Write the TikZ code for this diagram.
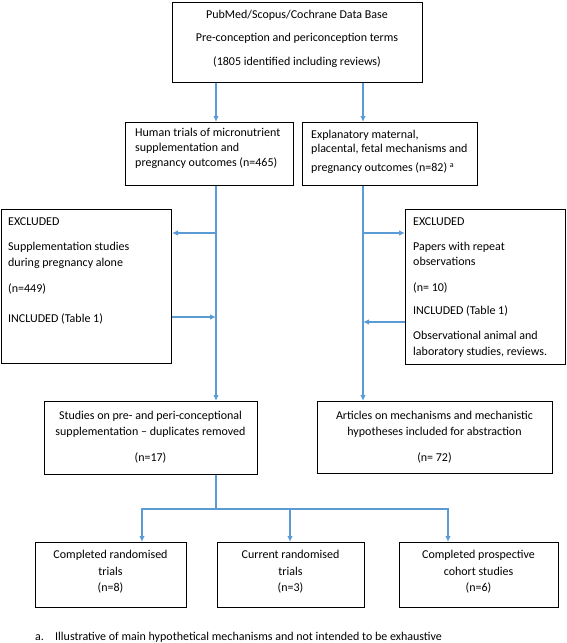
\documentclass[tikz,border=0pt]{standalone}
\usepackage{fontspec}
\setmainfont{Carlito}
\usetikzlibrary{arrows.meta}
\definecolor{arrowblue}{RGB}{91,155,213}
\begin{document}
\begin{tikzpicture}[x=1pt,y=-1pt,
  box/.style={draw=black, line width=1pt, inner sep=0pt},
  txt/.style={inner sep=0pt, font=\fontsize{12}{15}\selectfont},
  conn/.style={draw=arrowblue, line width=1.3pt},
  arr/.style={conn, -{Latex[length=6pt,width=5.5pt]}}]
\useasboundingbox (0,0) rectangle (567,643);
% boxes
\node[box, minimum width=250pt, minimum height=80pt, anchor=north west] (top) at (172,2) {};
\node[box, minimum width=168pt, minimum height=63pt, anchor=north west] (A) at (125,122) {};
\node[box, minimum width=175pt, minimum height=63pt, anchor=north west] (B) at (302,122) {};
\node[box, minimum width=170pt, minimum height=154pt, anchor=north west] (exL) at (1,209) {};
\node[box, minimum width=160pt, minimum height=155pt, anchor=north west] (exR) at (405,209) {};
\node[box, minimum width=213pt, minimum height=73pt, anchor=north west] (stud) at (44,401) {};
\node[box, minimum width=235pt, minimum height=72pt, anchor=north west] (art) at (317,401) {};
\node[box, minimum width=151pt, minimum height=65pt, anchor=north west] (c1) at (35,542) {};
\node[box, minimum width=147pt, minimum height=65pt, anchor=north west] (c2) at (217,542) {};
\node[box, minimum width=159pt, minimum height=65pt, anchor=north west] (c3) at (399,542) {};
% texts
\node[txt, align=center, anchor=north] (topt) at (297,10) {PubMed/Scopus/Cochrane Data Base\\[8pt]Pre-conception and periconception terms\\[9pt](1805 identified including reviews)};
\node[txt, align=left, anchor=north west] (At) at (135,128) {Human trials of micronutrient\\supplementation and\\pregnancy outcomes (n=465)};
\node[txt, align=left, anchor=north west] (Bt) at (311,130) {Explanatory maternal,\\[-1pt]placental, fetal mechanisms and\\[4pt]pregnancy outcomes (n=82) \textsuperscript{a}};
\node[txt, align=left, anchor=north west] (exLt) at (8,218) {EXCLUDED\\[10pt]Supplementation studies\\[1pt]during pregnancy alone\\[11pt](n=449)\\[15pt]INCLUDED (Table 1)};
\node[txt, align=left, anchor=north west] (exRt) at (413,218) {EXCLUDED\\[10pt]Papers with repeat\\observations\\[11pt](n= 10)\\[8pt]INCLUDED (Table 1)\\[10pt]Observational animal and\\[1pt]laboratory studies, reviews.};
\node[txt, align=center, anchor=north] (studt) at (150.5,411) {Studies on pre- and peri-conceptional\\[1pt]supplementation \textendash{} duplicates removed\\[11pt](n=17)};
\node[txt, align=center, anchor=north] (artt) at (434.5,411) {Articles on mechanisms and mechanistic\\[1pt]hypotheses included for abstraction\\[11pt](n= 72)};
\node[txt, align=center, anchor=north] (c1t) at (110.5,550) {Completed randomised\\[1.5pt]trials\\[1.5pt](n=8)};
\node[txt, align=center, anchor=north] (c2t) at (290.5,550) {Current randomised\\[1.5pt]trials\\[1.5pt](n=3)};
\node[txt, align=center, anchor=north] (c3t) at (478.5,550) {Completed prospective\\[1.5pt]cohort studies\\[1.5pt](n=6)};
\node[txt, align=left, anchor=north west] (foot) at (35,632) {\makebox[20pt][l]{a.}Illustrative of main hypothetical mechanisms and not intended to be exhaustive};
% connector helpers
\coordinate (xL) at (216,0);
\coordinate (xR) at (363,0);
\coordinate (yex) at (0,233);
\coordinate (yinL) at (0,317);
\coordinate (yinR) at (0,322);
\coordinate (split) at (216,509);
\coordinate (xa) at (142,0);
\coordinate (xb) at (290,0);
\coordinate (xc) at (448,0);
% connectors
\draw[arr] (top.south -| xL) -- (A.north -| xL);
\draw[arr] (top.south -| xR) -- (B.north -| xR);
\draw[arr] (A.south -| xL) -- (stud.north -| xL);
\draw[arr] (B.south -| xR) -- (art.north -| xR);
\draw[arr] (yex -| xL) -- (yex -| exL.east);
\draw[arr] (yinL -| exL.east) -- (yinL -| xL);
\draw[arr] (yex -| xR) -- (yex -| exR.west);
\draw[arr] (yinR -| exR.west) -- (yinR -| xR);
\draw[conn] (stud.south -| xL) -- (split);
\draw[arr] (split) -| (c1.north -| xa);
\draw[arr] (split) -| (c3.north -| xc);
\draw[arr] (split -| xb) -- (c2.north -| xb);
\end{tikzpicture}
\end{document}
